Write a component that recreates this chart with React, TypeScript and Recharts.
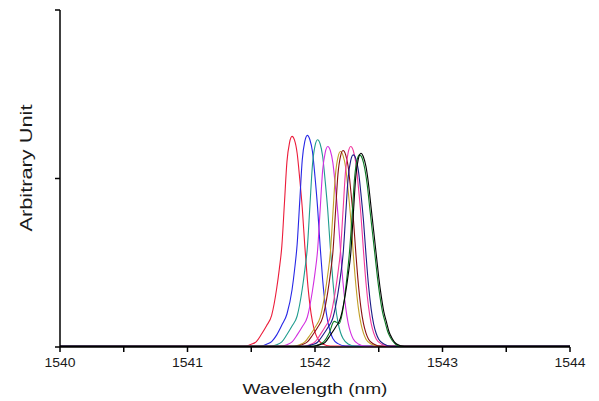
import { LineChart, Line, XAxis, YAxis, Label } from "recharts";

// Espectros: [longitud de onda (nm), intensidad]
const red: number[][] = [
  [1540, 0.3], [1541.42, 0.2], [1541.46, 0.3], [1541.5, 0.8], [1541.54, 1.6], [1541.58, 3.8], [1541.62, 6.3],
  [1541.66, 9.4], [1541.7, 17.5], [1541.72, 23.1], [1541.74, 30], [1541.76, 42.5], [1541.78, 55], [1541.8, 60.6],
  [1541.82, 62.5], [1541.84, 61.3], [1541.86, 57.5], [1541.88, 50], [1541.9, 41.3], [1541.92, 30], [1541.94, 20],
  [1541.96, 12.5], [1541.98, 7.5], [1542, 4.4], [1542.02, 2.5], [1542.06, 0.9], [1542.12, 0.3], [1544, 0.2],
];
const blue: number[][] = [
  [1540, 0.2], [1541.54, 0.2], [1541.58, 0.3], [1541.62, 0.8], [1541.66, 1.6], [1541.7, 3.6], [1541.74, 6.5],
  [1541.78, 9.8], [1541.82, 17], [1541.84, 23], [1541.86, 30.5], [1541.88, 43], [1541.9, 55.5], [1541.92, 61],
  [1541.94, 62.8], [1541.96, 61.5], [1541.98, 58], [1542, 50.5], [1542.02, 41.5], [1542.04, 30], [1542.06, 20],
  [1542.08, 12.5], [1542.1, 7.6], [1542.12, 4.5], [1542.14, 2.5], [1542.18, 1], [1542.24, 0.3], [1544, 0.2],
];
const teal: number[][] = [
  [1540, 0.3], [1541.62, 0.2], [1541.66, 0.3], [1541.7, 0.7], [1541.74, 1.5], [1541.78, 3.7], [1541.82, 6.2],
  [1541.86, 9.2], [1541.9, 17.2], [1541.92, 22.8], [1541.94, 29.5], [1541.96, 41.8], [1541.98, 54], [1542, 59.7],
  [1542.02, 61.5], [1542.04, 60.3], [1542.06, 56.6], [1542.08, 49.2], [1542.1, 40.6], [1542.12, 29.5], [1542.14, 19.7],
  [1542.16, 12.3], [1542.18, 7.4], [1542.2, 4.3], [1542.22, 2.5], [1542.26, 0.9], [1542.32, 0.2], [1544, 0.3],
];
const violet: number[][] = [
  [1540, 0.2], [1541.7, 0.2], [1541.74, 0.3], [1541.78, 0.7], [1541.82, 1.5], [1541.86, 3.6], [1541.9, 6],
  [1541.94, 8.9], [1541.98, 16.7], [1542, 22], [1542.02, 28.6], [1542.04, 40.5], [1542.06, 52.4], [1542.08, 57.7],
  [1542.1, 59.5], [1542.12, 58.3], [1542.14, 54.7], [1542.16, 47.6], [1542.18, 39.3], [1542.2, 28.6], [1542.22, 19],
  [1542.24, 11.9], [1542.26, 7.1], [1542.28, 4.2], [1542.3, 2.4], [1542.34, 0.9], [1542.4, 0.2], [1544, 0.2],
];
const olive: number[][] = [
  [1540, 0.2], [1541.8, 0.2], [1541.84, 0.3], [1541.88, 0.7], [1541.92, 1.5], [1541.96, 3.5], [1542, 5.8],
  [1542.04, 8.7], [1542.08, 16.2], [1542.1, 21.5], [1542.12, 27.8], [1542.14, 39.4], [1542.16, 51], [1542.18, 56.3],
  [1542.2, 58], [1542.22, 56.8], [1542.24, 53.4], [1542.26, 46.4], [1542.28, 38.3], [1542.3, 27.8], [1542.32, 18.6],
  [1542.34, 11.6], [1542.36, 7], [1542.38, 4.1], [1542.4, 2.3], [1542.44, 0.9], [1542.5, 0.2], [1544, 0.2],
];
const maroon: number[][] = [
  [1540, 0.3], [1541.82, 0.2], [1541.86, 0.3], [1541.9, 0.7], [1541.94, 1.5], [1541.98, 3.5], [1542.02, 5.8],
  [1542.06, 8.7], [1542.1, 16.3], [1542.12, 21.6], [1542.14, 28], [1542.16, 39.6], [1542.18, 51.3], [1542.2, 56.6],
  [1542.22, 58.3], [1542.24, 57.1], [1542.26, 53.6], [1542.28, 46.6], [1542.3, 38.5], [1542.32, 28], [1542.34, 18.7],
  [1542.36, 11.7], [1542.38, 7], [1542.4, 4.1], [1542.42, 2.3], [1542.46, 0.9], [1542.52, 0.2], [1544, 0.3],
];
const pink: number[][] = [
  [1540, 0.2], [1541.88, 0.2], [1541.92, 0.3], [1541.96, 0.7], [1542, 1.5], [1542.04, 3.6], [1542.08, 6],
  [1542.12, 8.9], [1542.16, 16.7], [1542.18, 22], [1542.2, 28.6], [1542.22, 40.5], [1542.24, 52.4], [1542.26, 57.7],
  [1542.28, 59.5], [1542.3, 58.3], [1542.32, 54.7], [1542.34, 47.6], [1542.36, 39.3], [1542.38, 28.6], [1542.4, 19],
  [1542.42, 11.9], [1542.44, 7.1], [1542.46, 4.2], [1542.48, 2.4], [1542.52, 0.9], [1542.58, 0.2], [1544, 0.2],
];
const navy: number[][] = [
  [1540, 0.3], [1541.9, 0.2], [1541.94, 0.3], [1541.98, 0.7], [1542.02, 1.4], [1542.06, 3.4], [1542.1, 5.7],
  [1542.14, 8.6], [1542.18, 16], [1542.2, 21.1], [1542.22, 27.4], [1542.24, 38.8], [1542.26, 50.2], [1542.28, 55.3],
  [1542.3, 57], [1542.32, 55.9], [1542.34, 52.4], [1542.36, 45.6], [1542.38, 37.6], [1542.4, 27.4], [1542.42, 18.2],
  [1542.44, 11.4], [1542.46, 6.8], [1542.48, 4], [1542.5, 2.3], [1542.54, 0.9], [1542.6, 0.2], [1544, 0.3],
];
const green: number[][] = [
  [1540, 0.2], [1541.95, 0.2], [1541.99, 0.3], [1542.03, 0.7], [1542.07, 1.6], [1542.11, 4], [1542.15, 7.6],
  [1542.19, 7], [1542.23, 14], [1542.25, 20.5], [1542.27, 28], [1542.29, 38.5], [1542.31, 50], [1542.33, 55.5],
  [1542.35, 57], [1542.37, 56], [1542.39, 53], [1542.41, 48], [1542.43, 41], [1542.45, 34.2], [1542.47, 27.4],
  [1542.49, 20.5], [1542.51, 14.8], [1542.53, 10.3], [1542.55, 7.4], [1542.57, 4.6], [1542.59, 2.9], [1542.63, 0.9],
  [1542.67, 0.2], [1544, 0.2],
];
const black: number[][] = [
  [1540, 0.2], [1541.96, 0.2], [1542, 0.3], [1542.04, 0.7], [1542.08, 1.4], [1542.12, 3.5], [1542.16, 5.8],
  [1542.2, 8.6], [1542.24, 16.1], [1542.26, 21.3], [1542.28, 27.6], [1542.3, 39.1], [1542.32, 50.6], [1542.34, 55.8],
  [1542.36, 57.5], [1542.38, 56.4], [1542.4, 53.5], [1542.42, 48.3], [1542.44, 41.4], [1542.46, 34.5], [1542.48, 27.6],
  [1542.5, 20.7], [1542.52, 15], [1542.54, 10.4], [1542.56, 7.5], [1542.58, 4.6], [1542.6, 2.9], [1542.64, 0.9],
  [1542.7, 0.2], [1544, 0.2],
];

const SERIES = [
  { name: "s1", pts: red, color: "#ec1c3a" },
  { name: "s2", pts: blue, color: "#2626e6" },
  { name: "s3", pts: teal, color: "#1f9c8e" },
  { name: "s4", pts: violet, color: "#d22ee0" },
  { name: "s5", pts: olive, color: "#c2a028" },
  { name: "s6", pts: maroon, color: "#8a1010" },
  { name: "s7", pts: pink, color: "#f0389c" },
  { name: "s8", pts: navy, color: "#1c1c86" },
  { name: "s9", pts: green, color: "#0c7a24" },
  { name: "s10", pts: black, color: "#000000" },
];

const X_TICKS = [1540, 1540.5, 1541, 1541.5, 1542, 1542.5, 1543, 1543.5, 1544];
const Y_TICKS = [0, 50, 100];

const FONT = "'Liberation Sans', Arial, sans-serif";

// solo etiquetas en los enteros; las marcas de medio nm van sin texto
const XTick = ({ x, y, payload }: any) => {
  if (!Number.isInteger(payload.value)) return <g />;
  return (
    <text x={x} y={y} dy={13} textAnchor="middle" fontSize={12} fontFamily={FONT} fill="#1a1a1a"
      textLength={31} lengthAdjust="spacingAndGlyphs">
      {payload.value}
    </text>
  );
};

// eje Y sin números, solo las marcas
const NoTick = () => <g />;

const XTitle = () => (
  <text x={315} y={394} textAnchor="middle" fontSize={15} fontFamily={FONT} fill="#1a1a1a"
    textLength={145} lengthAdjust="spacingAndGlyphs">
    Wavelength (nm)
  </text>
);

const YTitle = () => (
  <text x={0} y={0} transform="translate(32,168) rotate(-90)" textAnchor="middle" fontSize={17} fontFamily={FONT}
    fill="#1a1a1a" textLength={127} lengthAdjust="spacingAndGlyphs">
    Arbitrary Unit
  </text>
);

export default function App() {
  return (
    <div style={{ position: "absolute", left: 0, top: 0, width: 599, height: 401, background: "#fff" }}>
      <LineChart width={599} height={401} margin={{ top: 10, right: 29, bottom: 0, left: 0 }}>
        <XAxis
          dataKey="wl"
          type="number"
          domain={[1540, 1544]}
          ticks={X_TICKS}
          tick={XTick}
          tickSize={5}
          height={54}
          stroke="#000"
          strokeWidth={1.5}
          allowDecimals
        >
          <Label content={XTitle} />
        </XAxis>
        <YAxis
          type="number"
          domain={[0, 100]}
          ticks={Y_TICKS}
          tick={NoTick}
          tickLine
          tickSize={5}
          width={60}
          stroke="#000"
          strokeWidth={1.5}
        >
          <Label content={YTitle} />
        </YAxis>
        {SERIES.map((s) => (
          <Line
            key={s.name}
            data={s.pts.map(([wl, v]) => ({ wl, v }))}
            dataKey="v"
            type="monotone"
            stroke={s.color}
            strokeWidth={1.1}
            dot={false}
            isAnimationActive={false}
          />
        ))}
      </LineChart>
    </div>
  );
}
